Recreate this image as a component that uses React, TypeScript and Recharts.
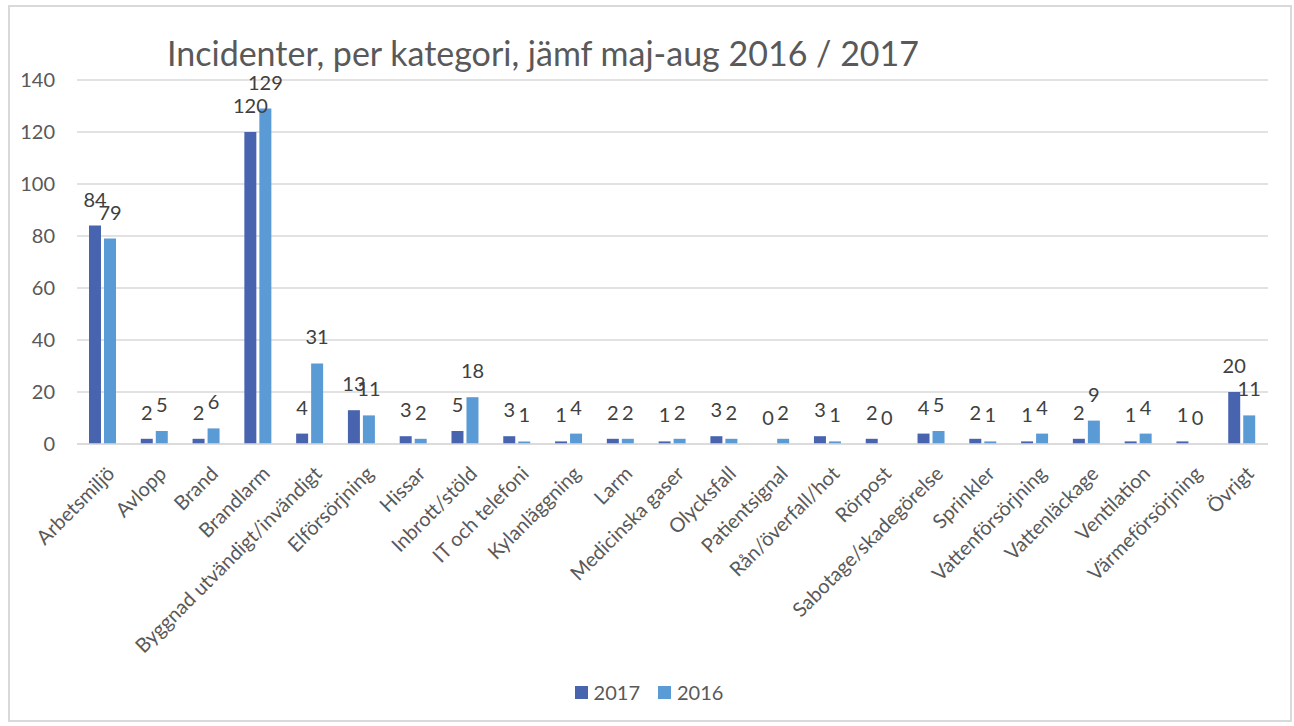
import { BarChart, Bar, XAxis, YAxis, CartesianGrid, Legend, LabelList } from 'recharts';

const categories = [
	'Arbetsmiljö',
	'Avlopp',
	'Brand',
	'Brandlarm',
	'Byggnad utvändigt/invändigt',
	'Elförsörjning',
	'Hissar',
	'Inbrott/stöld',
	'IT och telefoni',
	'Kylanläggning',
	'Larm',
	'Medicinska gaser',
	'Olycksfall',
	'Patientsignal',
	'Rån/överfall/hot',
	'Rörpost',
	'Sabotage/skadegörelse',
	'Sprinkler',
	'Vattenförsörjning',
	'Vattenläckage',
	'Ventilation',
	'Värmeförsörjning',
	'Övrigt',
];

const values2017 = [84, 2, 2, 120, 4, 13, 3, 5, 3, 1, 2, 1, 3, 0, 3, 2, 4, 2, 1, 2, 1, 1, 20];
const values2016 = [79, 5, 6, 129, 31, 11, 2, 18, 1, 4, 2, 2, 2, 2, 1, 0, 5, 1, 4, 9, 4, 0, 11];

const yTicks = [0, 20, 40, 60, 80, 100, 120, 140];

const data = categories.map((name, i) => ({
	name,
	y2017: values2017[i],
	y2016: values2016[i],
}));

const FONT = 'Lato, "Open Sans", sans-serif';
const DARK = '#4864AF';
const LIGHT = '#5B9BD5';

const CategoryTick = ({ x, y, payload }: any) => (
	<g transform={`translate(${x + 8},${y + 18})`}>
		<text
			transform="rotate(-45)"
			textAnchor="end"
			dy="0.35em"
			fill="#595959"
			fontSize={20}
			fontFamily={FONT}
		>
			{payload.value}
		</text>
	</g>
);

// value above the bar; zero bars get a tiny minPointSize so they still get a label
const ValueLabel = (props: any) => {
	const { x, y, width, value } = props;
	if (value === undefined || value === null) return null;
	return (
		<text
			x={x + width / 2}
			y={y - 19}
			textAnchor="middle"
			fill="#404040"
			fontSize={20}
			fontFamily={FONT}
		>
			{value}
		</text>
	);
};

const LegendContent = () => (
	<div
		style={{
			display: 'flex',
			justifyContent: 'center',
			gap: 18,
			fontFamily: FONT,
			fontSize: 20,
			color: '#595959',
			marginLeft: 20,
		}}
	>
		{[
			{ label: '2017', color: DARK },
			{ label: '2016', color: LIGHT },
		].map((item) => (
			<div key={item.label} style={{ display: 'flex', alignItems: 'center', gap: 6 }}>
				<span style={{ width: 13, height: 13, background: item.color, display: 'inline-block' }} />
				<span>{item.label}</span>
			</div>
		))}
	</div>
);

const App = () => {
	return (
		<div
			style={{
				position: 'absolute',
				left: 8,
				top: 5,
				width: 1284,
				height: 717,
				border: '2px solid #d9d9d9',
				boxSizing: 'border-box',
				background: '#fff',
			}}
		>
			<div
				style={{
					position: 'absolute',
					left: 157,
					top: 25,
					fontFamily: FONT,
					fontSize: 34,
					color: '#595959',
					whiteSpace: 'nowrap',
				}}
			>
				Incidenter, per kategori, jämf maj-aug 2016 / 2017
			</div>
			<BarChart
				width={1280}
				height={713}
				data={data}
				margin={{ top: 73, right: 22, bottom: 12, left: 0 }}
				barCategoryGap={12}
				barGap={3}
			>
				<CartesianGrid vertical={false} stroke="#d9d9d9" strokeWidth={1.5} />
				<XAxis
					dataKey="name"
					interval={0}
					height={236}
					tick={<CategoryTick />}
					tickLine={false}
					axisLine={{ stroke: '#d9d9d9', strokeWidth: 1.5 }}
				/>
				<YAxis
					width={67}
					domain={[0, 140]}
					ticks={yTicks}
					tickLine={false}
					axisLine={false}
					tickMargin={16}
					tick={{ fill: '#595959', fontSize: 20, fontFamily: FONT }}
				/>
				<Legend verticalAlign="bottom" height={28} content={<LegendContent />} />
				<Bar
					dataKey="y2017"
					name="2017"
					fill={DARK}
					barSize={12}
					minPointSize={0.01}
					isAnimationActive={false}
				>
					<LabelList dataKey="y2017" content={<ValueLabel />} />
				</Bar>
				<Bar
					dataKey="y2016"
					name="2016"
					fill={LIGHT}
					barSize={12}
					minPointSize={0.01}
					isAnimationActive={false}
				>
					<LabelList dataKey="y2016" content={<ValueLabel />} />
				</Bar>
			</BarChart>
		</div>
	);
};

export default App;
